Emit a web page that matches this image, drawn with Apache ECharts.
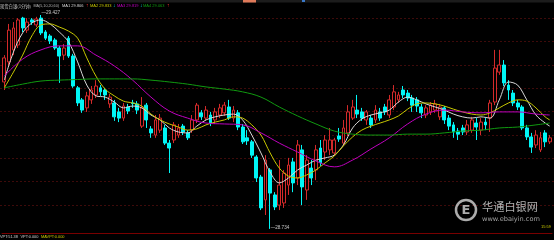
<!DOCTYPE html>
<html><head><meta charset="utf-8">
<script src="https://cdn.jsdelivr.net/npm/echarts@6/dist/echarts.min.js"></script>
<style>html,body{margin:0;padding:0;background:#000;}#c{width:554px;height:240px;}</style>
</head><body><div id="c"></div>
<script>
const categories = Array.from({length: 120}, (_, i) => String(i + 1));
const opens = [29.210,29.275,29.314,29.330,29.417,29.378,29.411,29.395,29.417,29.372,
29.359,29.346,29.320,29.297,29.352,29.294,29.191,29.152,29.126,29.152,
29.168,29.191,29.184,29.139,29.142,29.113,29.093,29.129,29.142,29.139,
29.067,29.135,29.058,29.038,29.054,29.061,29.012,29.022,29.038,29.067,
29.045,29.054,29.087,29.110,29.093,29.103,29.087,29.103,29.110,29.129,
29.093,29.110,29.064,29.029,29.016,28.967,28.902,28.828,28.925,28.844,
28.811,28.818,28.876,28.951,28.899,28.990,28.860,28.931,28.925,28.996,
28.983,28.990,28.980,29.035,29.012,29.045,29.093,29.119,29.113,29.087,
29.093,29.087,29.113,29.129,29.103,29.129,29.152,29.184,29.174,29.158,
29.152,29.129,29.103,29.113,29.119,29.097,29.126,29.093,29.071,29.051,
29.061,29.048,29.054,29.077,29.054,29.080,29.093,29.145,29.242,29.265,
29.200,29.174,29.142,29.129,29.061,29.032,29.006,28.990,29.045,29.016];
const closes = [29.288,29.378,29.385,29.411,29.385,29.404,29.404,29.414,29.369,29.352,
29.343,29.320,29.294,29.320,29.294,29.197,29.142,29.119,29.165,29.184,
29.197,29.178,29.168,29.161,29.097,29.093,29.132,29.116,29.140,29.119,
29.126,29.087,29.045,29.087,29.093,29.012,28.996,29.071,29.061,29.048,
29.029,29.087,29.135,29.097,29.119,29.077,29.113,29.126,29.135,29.093,
29.119,29.064,29.016,29.019,28.973,28.899,28.802,28.957,28.850,28.805,
28.876,28.915,28.941,28.883,29.006,28.870,28.957,28.899,28.990,28.948,
29.022,29.022,29.022,29.025,29.061,29.113,29.129,29.106,29.093,29.113,
29.071,29.119,29.093,29.113,29.152,29.178,29.168,29.168,29.158,29.135,
29.132,29.110,29.126,29.135,29.139,29.129,29.087,29.067,29.048,29.041,
29.048,29.071,29.087,29.064,29.080,29.071,29.142,29.255,29.265,29.207,
29.184,29.142,29.129,29.061,29.032,28.999,29.038,29.029,29.016,29.029];
const lows = [29.184,29.262,29.297,29.320,29.372,29.369,29.395,29.388,29.362,29.346,
29.333,29.314,29.207,29.281,29.288,29.191,29.132,29.110,29.113,29.139,
29.158,29.165,29.152,29.126,29.084,29.080,29.084,29.106,29.126,29.106,
29.061,29.061,29.029,29.029,29.045,29.006,28.915,29.012,29.029,29.038,
29.022,29.045,29.077,29.087,29.084,29.067,29.074,29.093,29.100,29.087,
29.080,29.054,29.009,29.006,28.964,28.886,28.795,28.779,28.734,28.795,
28.795,28.802,28.844,28.853,28.876,28.811,28.828,28.876,28.892,28.938,
28.957,28.973,28.970,29.016,29.003,29.035,29.087,29.093,29.084,29.071,
29.061,29.077,29.084,29.103,29.093,29.119,29.142,29.158,29.148,29.113,
29.113,29.093,29.093,29.103,29.110,29.087,29.074,29.054,29.029,29.022,
29.038,29.038,29.045,29.022,29.038,29.054,29.048,29.135,29.233,29.197,
29.152,29.132,29.119,29.054,29.022,28.980,28.996,28.983,28.999,29.009];
const highs = [29.297,29.398,29.404,29.417,29.421,29.417,29.417,29.421,29.427,29.378,
29.365,29.352,29.327,29.333,29.359,29.301,29.197,29.158,29.178,29.197,
29.216,29.200,29.191,29.171,29.152,29.126,29.142,29.139,29.152,29.148,
29.161,29.142,29.067,29.103,29.106,29.071,29.022,29.080,29.074,29.074,
29.054,29.103,29.142,29.119,29.132,29.113,29.126,29.139,29.145,29.152,
29.132,29.119,29.074,29.054,29.022,28.973,28.909,28.973,28.931,28.853,
28.957,28.925,28.964,28.964,29.022,29.006,28.973,28.957,29.006,29.022,
29.038,29.061,29.029,29.061,29.087,29.135,29.152,29.168,29.126,29.119,
29.103,29.135,29.126,29.139,29.168,29.200,29.178,29.197,29.184,29.168,
29.161,29.139,29.135,29.145,29.152,29.139,29.132,29.103,29.080,29.061,
29.071,29.087,29.097,29.093,29.093,29.093,29.152,29.314,29.314,29.281,
29.216,29.184,29.152,29.135,29.071,29.045,29.054,29.048,29.054,29.038];
// moving average lines: [category index, value]
const ma1 = [[0,29.216],[2,29.307],[4,29.369],[6,29.401],[8,29.411],[10,29.398],[12,29.372],[14,29.340],[16,29.275],[18,29.200],
[20,29.165],[22,29.161],[24,29.145],[26,29.126],[28,29.132],[30,29.126],[32,29.103],[34,29.087],[36,29.061],[38,29.048],
[40,29.045],[42,29.067],[44,29.087],[46,29.097],[48,29.103],[50,29.106],[52,29.087],[54,29.038],[56,28.980],[58,28.918],
[60,28.883],[62,28.899],[64,28.925],[66,28.941],[68,28.957],[70,28.964],[72,28.973],[74,29.006],[76,29.061],[78,29.090],
[80,29.103],[82,29.110],[84,29.119],[86,29.145],[88,29.161],[90,29.152],[92,29.139],[94,29.129],[96,29.119],[98,29.106],
[100,29.097],[102,29.093],[104,29.097],[106,29.093],[108,29.152],[110,29.210],[112,29.200],[114,29.152],[116,29.103],[118,29.077],[119,29.067]];
const ma2 = [[0,29.191],[2,29.242],[4,29.297],[6,29.359],[8,29.395],[10,29.398],[12,29.388],[14,29.375],[16,29.352],[18,29.288],
[20,29.229],[22,29.187],[24,29.165],[26,29.148],[28,29.142],[30,29.132],[32,29.106],[34,29.087],[36,29.074],[38,29.064],
[40,29.054],[42,29.058],[44,29.071],[46,29.080],[48,29.087],[50,29.097],[52,29.093],[54,29.071],[56,29.038],[58,28.980],
[60,28.931],[62,28.905],[64,28.899],[66,28.909],[68,28.925],[70,28.948],[72,28.970],[74,29.003],[76,29.032],[78,29.054],
[80,29.067],[82,29.077],[84,29.087],[86,29.100],[88,29.122],[90,29.139],[92,29.142],[94,29.139],[96,29.132],[98,29.122],
[100,29.113],[102,29.106],[104,29.103],[106,29.110],[108,29.126],[110,29.142],[112,29.152],[114,29.148],[116,29.126],[118,29.097],[119,29.087]];
const ma3 = [[0,29.229],[4,29.284],[8,29.314],[12,29.327],[16,29.327],[20,29.297],[24,29.262],[28,29.216],[32,29.161],[36,29.116],
[40,29.093],[44,29.077],[48,29.074],[52,29.071],[56,29.045],[60,29.012],[64,28.983],[68,28.954],[72,28.935],[76,28.957],
[80,28.993],[84,29.029],[88,29.074],[92,29.106],[96,29.119],[100,29.113],[104,29.110],[108,29.113],[112,29.113],[116,29.106],[119,29.103]];
const ma4 = [[0,29.191],[4,29.203],[8,29.213],[12,29.216],[16,29.218],[20,29.220],[24,29.220],[28,29.220],[32,29.216],[36,29.210],
[40,29.203],[44,29.194],[48,29.187],[52,29.178],[56,29.161],[60,29.129],[64,29.100],[68,29.074],[72,29.051],[76,29.041],
[80,29.038],[84,29.038],[88,29.041],[92,29.041],[96,29.045],[100,29.051],[104,29.054],[108,29.061],[112,29.064],[116,29.071],[119,29.077]];
const headerTitle = '现货白银(1分钟)';
const headerParams = 'MA(5,10,20,60)';
const maNames = ['MA1', 'MA2', 'MA3', 'MA4'];
const maValues = ['29.806', '29.833', '29.819', '29.063'];
const maArrows = ['↑', '↓', '↓', '↑'];
const subTexts = ['VPT:51.38', 'VPT:0.000', 'MAVPT:0.000'];

const candles = opens.map((o, i) => [o, closes[i], lows[i], highs[i]]);
const UP = '#d42a2a', DOWN = '#00f6f6';
const maColors = ['#d8d8d8', '#c8c800', '#c000c0', '#109a10'];
const F = '"Liberation Sans", Arial, sans-serif';
const FC = '"Noto Sans CJK SC", sans-serif';

function txt(x, y, text, fill, size, font) {
  return {type: 'text', x: x, y: y, z: 100, silent: true,
    style: {text: text, fill: fill, font: size + 'px ' + (font || F), align: 'left', verticalAlign: 'middle'}};
}
const maX = [62, 90, 117, 143];
const arrowX = [86, 113, 140, 167];
const graphics = [
  {type: 'rect', shape: {x: 0, y: 0, width: 554, height: 2.5}, style: {fill: '#1c1c1c'}, z: 99, silent: true},
  {type: 'rect', shape: {x: 243, y: 0, width: 13, height: 2.5}, style: {fill: '#e07a5a'}, z: 99, silent: true},
  {type: 'rect', shape: {x: 302, y: 0, width: 3, height: 2}, style: {fill: '#3a78c8'}, z: 99, silent: true},
  txt(0, 6, headerTitle, '#c8c8c8', 4.3, FC),
  txt(33.5, 6, headerParams, '#b8b8b8', 3.7)
];
maNames.forEach((n, k) => {
  graphics.push(txt(maX[k], 6, n + ' ' + maValues[k], maColors[k], 4.0));
  graphics.push(txt(arrowX[k], 6, maArrows[k], maArrows[k] === '↑' ? '#ff3030' : '#00e0e0', 5));
});
graphics.push(txt(0, 236.5, subTexts[0], '#d0d0d0', 3.9));
graphics.push(txt(20.5, 236.5, subTexts[1], '#d0d0d0', 3.9));
graphics.push(txt(41, 236.5, subTexts[2], '#c8c800', 3.9));
graphics.push(txt(541, 227, '15:59', '#c8c800', 4.0));
// watermark
graphics.push({type: 'circle', shape: {cx: 466, cy: 210, r: 10}, style: {fill: 'none', stroke: 'rgba(215,215,215,0.8)', lineWidth: 2.5}, z: 100, silent: true});
graphics.push({type: 'text', x: 466, y: 210.5, z: 100, silent: true, style: {text: 'E', fill: 'rgba(215,215,215,0.8)', font: 'bold 13px "DejaVu Sans"', align: 'center', verticalAlign: 'middle'}});
graphics.push(txt(482, 207, '华通白银网', 'rgba(215,215,215,0.82)', 11.2, FC));
graphics.push(txt(482, 219.5, 'www.ebaiyin.com', 'rgba(200,200,200,0.8)', 6.6, '"DejaVu Sans", sans-serif'));

const chart = echarts.init(document.getElementById('c'), null, {renderer: 'canvas'});
chart.setOption({
  animation: false,
  backgroundColor: '#000',
  grid: [
    {left: 2, right: 2, top: 10, bottom: 7},
    {left: 0, right: 0, top: 18.3, height: 186.7}
  ],
  xAxis: [
    {type: 'category', data: categories, gridIndex: 0, boundaryGap: true,
     axisLine: {show: true, onZero: false, lineStyle: {color: '#780000', width: 1}},
     axisTick: {show: false}, axisLabel: {show: false}, splitLine: {show: false}},
    {type: 'value', gridIndex: 1, show: false, min: 0, max: 1}
  ],
  yAxis: [
    {type: 'value', gridIndex: 0, min: 28.7207, max: 29.4432, scale: true,
     axisLine: {show: false}, axisTick: {show: false}, axisLabel: {show: false}, splitLine: {show: false}},
    {type: 'value', gridIndex: 1, min: 0, max: 8, interval: 1,
     axisLine: {show: false}, axisTick: {show: false}, axisLabel: {show: false},
     splitLine: {show: true, lineStyle: {color: '#3e0a0a', width: 1, type: [2, 2]}}}
  ],
  graphic: graphics,
  series: [
    {type: 'candlestick', xAxisIndex: 0, yAxisIndex: 0, data: candles, barWidth: 3.4,
     itemStyle: {color: '#000', color0: DOWN, borderColor: UP, borderColor0: DOWN, borderWidth: 1},
     markPoint: {
       symbol: 'circle', symbolSize: 1, itemStyle: {color: 'rgba(0,0,0,0)'},
       label: {show: true, position: 'right', distance: 0, color: '#c8c8c8', fontSize: 4.6, fontFamily: 'Liberation Sans',
               formatter: p => '\u2014' + Number(p.value).toFixed(3)},
       data: [
         {type: 'max', valueDim: 'highest', label: {offset: [0, -2.5]}},
         {type: 'min', valueDim: 'lowest', label: {offset: [0, -1]}}
       ]
     }},
    {type: 'line', data: ma1, smooth: 0.35, connectNulls: true, symbol: 'none', lineStyle: {color: maColors[0], width: 1}, z: 3},
    {type: 'line', data: ma2, smooth: 0.35, connectNulls: true, symbol: 'none', lineStyle: {color: maColors[1], width: 1}, z: 3},
    {type: 'line', data: ma3, smooth: 0.4, connectNulls: true, symbol: 'none', lineStyle: {color: maColors[2], width: 1}, z: 3},
    {type: 'line', data: ma4, smooth: 0.4, connectNulls: true, symbol: 'none', lineStyle: {color: maColors[3], width: 1}, z: 3}
  ]
});
</script>
</body></html>
